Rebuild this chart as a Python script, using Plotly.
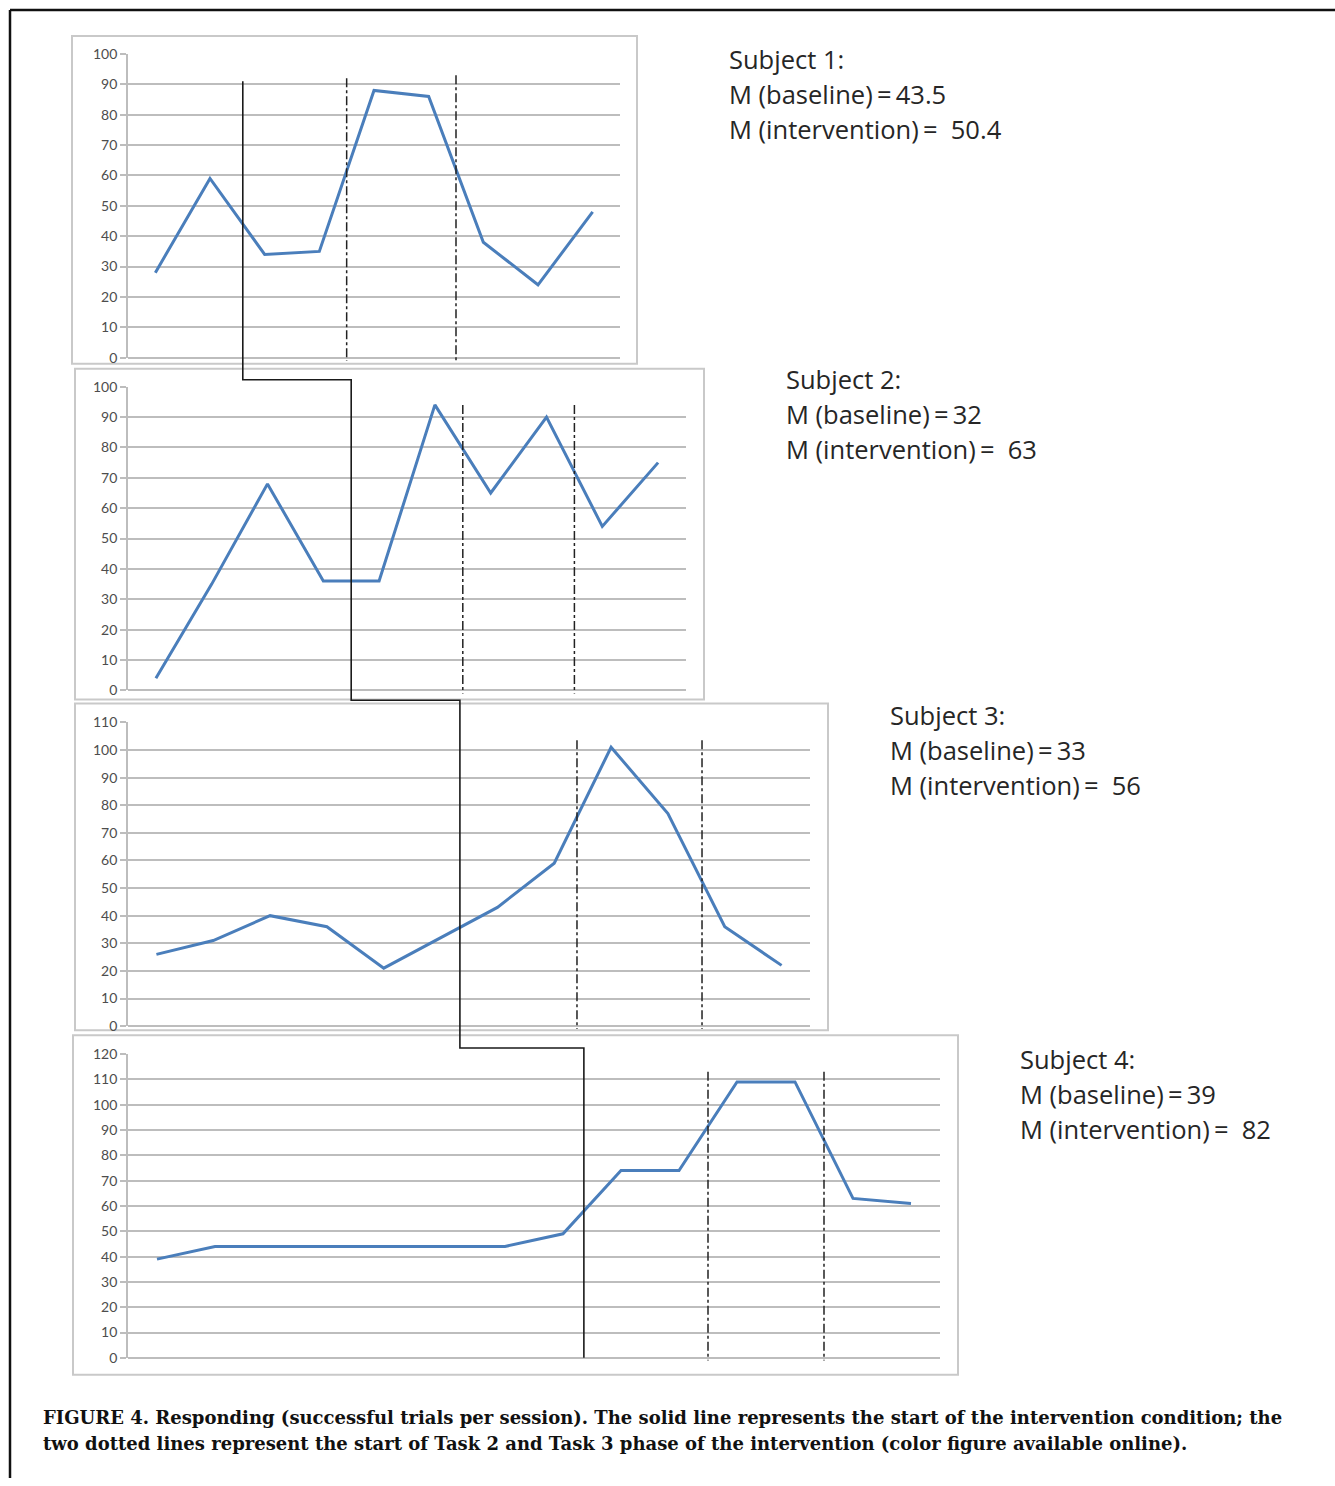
import plotly.graph_objects as go

# ---- data: successful trials per session for each subject ----
subject1 = [28, 59, 34, 35, 88, 86, 38, 24, 48]
subject2 = [4, 35, 68, 36, 36, 94, 65, 90, 54, 75]
subject3 = [26, 31, 40, 36, 21, 32, 43, 59, 101, 77, 36, 22]
subject4 = [39, 44, 44, 44, 44, 44, 44, 49, 74, 74, 109, 109, 63, 61]
series = [subject1, subject2, subject3, subject4]

y_max = [100, 100, 110, 120]

# phase changes, in session units (between sessions)
intervention_start = [2.6, 4.5, 6.34, 8.36]
task2_start = [4.5, 6.5, 8.4, 10.5]
task3_start = [6.5, 8.5, 10.6, 12.5]
# top of the dash-dot markers for each subject (data units)
task_line_top = [[92, 93], [94, 94], [103.5, 103.5], [113, 113]]
# y levels of the solid step line: top in panel 1, then the steps into panels 2-4
step_top = 91
step_levels = [102.3, 118, 122.4]

labels = ["Subject 1:", "Subject 2:", "Subject 3:", "Subject 4:"]
mean_baseline = ["43.5", "32", "33", "39"]
mean_intervention = ["50.4", "63", "56", "82"]

caption_lines = [
    "FIGURE 4. Responding (successful trials per session). The solid line represents "
    "the start of the intervention condition; the",
    "two dotted lines represent the start of Task 2 and Task 3 phase of the intervention "
    "(color figure available online).",
]

# ---- layout geometry (pixels on the page) ----
W, H = 1335, 1486
TOP = 8          # page offset of the figure
VSCALE = 0.9894  # vertical page scale
# plotting area of each panel: x left/right, y bottom/top
areas = [
    (128, 620, 357, 53),
    (128, 686, 690, 386),
    (128, 810, 1026, 722),
    (128, 940, 1358, 1054),
]
boxes = [
    (72, 35, 637, 363),
    (75, 368, 704, 699),
    (75, 703, 828, 1030),
    (73, 1035, 958, 1375),
]
text_pos = [(727, 58), (784, 378), (888, 715), (1018, 1059)]


def px(x):
    return x / W


def py(y):
    return 1 - ((y - TOP) / VSCALE) / H


def to_paper(i, sx, sy):
    """Map (session, value) of panel i onto paper coordinates."""
    x0, x1, yb, yt = areas[i]
    n = len(series[i])
    fx = (sx - 0.5) / n
    fy = sy / y_max[i]
    return px(x0 + fx * (x1 - x0)), py(yb - fy * (yb - yt))


BLUE = "#4a7ebb"
GRID = "#bdbdbd"
fig = go.Figure()
shapes = []
annotations = []

for i, vals in enumerate(series):
    sfx = "" if i == 0 else str(i + 1)
    x0, x1, yb, yt = areas[i]
    sessions = list(range(1, len(vals) + 1))
    fig.add_trace(go.Scatter(
        x=sessions, y=vals, mode="lines",
        line=dict(color=BLUE, width=3),
        xaxis="x" + sfx, yaxis="y" + sfx, showlegend=False, hoverinfo="skip",
    ))
    fig.update_layout(**{
        "xaxis" + sfx: dict(
            domain=[px(x0), px(x1)], range=[0.5, len(vals) + 0.5],
            anchor="y" + sfx, showgrid=False, showticklabels=False,
            zeroline=False, showline=False, ticks="",
        ),
        "yaxis" + sfx: dict(
            domain=[py(yb), py(yt)], range=[0, y_max[i]], dtick=10,
            anchor="x" + sfx, showgrid=True, gridcolor=GRID, gridwidth=2,
            zeroline=True, zerolinecolor=GRID, zerolinewidth=2,
            showline=True, linecolor=GRID, linewidth=1.8,
            ticks="outside", ticklen=6, tickcolor=GRID, tickwidth=1.5,
            tickfont=dict(family="Lato", size=14, color="#4d4d4d"),
        ),
    })

    # panel frame
    bx0, by0, bx1, by1 = boxes[i]
    shapes.append(dict(type="rect", xref="paper", yref="paper",
                       x0=px(bx0), y0=py(by0), x1=px(bx1), y1=py(by1),
                       line=dict(color="#c9c9c9", width=2), layer="below"))

    # dash-dot markers for Task 2 and Task 3 starts
    for pos, top in zip([task2_start[i], task3_start[i]], task_line_top[i]):
        xa, ya = to_paper(i, pos, top)
        _, yb0 = to_paper(i, pos, -1)
        shapes.append(dict(type="line", xref="paper", yref="paper",
                           x0=xa, x1=xa, y0=ya, y1=yb0,
                           line=dict(color="#222222", width=1.5, dash="dashdot")))

    # subject summary text
    tx, ty = text_pos[i]
    lines = [labels[i],
             "M (baseline)\u2009=\u2009" + mean_baseline[i],
             "M (intervention)\u2009=\u00a0 " + mean_intervention[i]]
    for k, t in enumerate(lines):
        annotations.append(dict(
            text=t, x=px(tx), y=py(ty + 35 * k), xref="paper", yref="paper",
            xanchor="left", yanchor="middle", showarrow=False,
            font=dict(family="Open Sans", size=25.5, color="#262626"),
        ))

# solid step line marking the start of the intervention
pts = [to_paper(0, intervention_start[0], step_top)]
for i in range(1, 4):
    level = to_paper(i, 0.5, step_levels[i - 1])[1]
    pts.append((pts[-1][0], level))
    pts.append(to_paper(i, intervention_start[i], step_levels[i - 1]))
pts.append(to_paper(3, intervention_start[3], 0))
path = "M " + " L ".join(f"{x:.5f},{y:.5f}" for x, y in pts)
shapes.append(dict(type="path", xref="paper", yref="paper", path=path,
                   line=dict(color="#1a1a1a", width=1.6), layer="above"))

# outer figure frame (top and left rules)
shapes.append(dict(type="line", xref="paper", yref="paper",
                   x0=px(10), x1=px(1335), y0=py(9), y1=py(9),
                   line=dict(color="#111111", width=2.5)))
shapes.append(dict(type="line", xref="paper", yref="paper",
                   x0=px(10), x1=px(10), y0=py(9), y1=0,
                   line=dict(color="#111111", width=2.5)))

for k, line in enumerate(caption_lines):
    annotations.append(dict(
        text="<b>" + line + "</b>", x=px(41), y=py(1418 + 26 * k),
        xref="paper", yref="paper", xanchor="left", yanchor="middle",
        showarrow=False,
        font=dict(family="DejaVu Serif", size=18, color="#111111"),
    ))

fig.update_layout(
    width=W, height=H, margin=dict(l=0, r=0, t=0, b=0),
    paper_bgcolor="white", plot_bgcolor="rgba(0,0,0,0)",
    shapes=shapes, annotations=annotations, showlegend=False,
)

fig.write_html("out.html")
